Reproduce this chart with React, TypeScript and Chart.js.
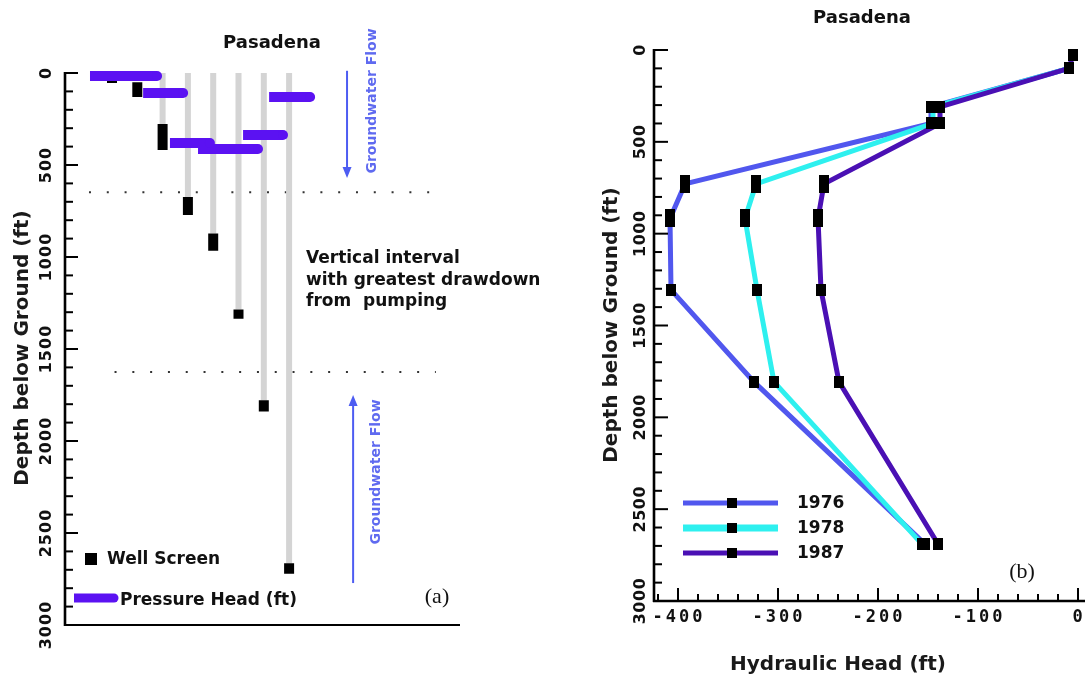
import React, { useEffect, useRef } from 'react';
import { Chart, registerables } from 'chart.js';

Chart.register(...registerables);

// ---------------- Panel (a) data ----------------
const wellPositions = [1, 2, 3, 4, 5, 6, 7, 8];
const screenTop = [10, 50, 277, 674, 872, 1285, 1778, 2665];
const screenBottom = [55, 130, 418, 772, 966, 1336, 1840, 2722];
const casedWellIndex = [2, 3, 4, 5, 6, 7];
const headStart = [0.13, 2.23, 3.29, 4.4, 6.18, 7.21];
const headEnd = [2.78, 3.81, 4.87, 6.77, 7.76, 8.83];
const headDepth = [16, 109, 380, 413, 337, 130];
const intervalDepths = [648, 1625];
const intervalStartX = [0.09, 1.1];
const intervalEndX = [13.96, 13.8];
const flowArrowX = [10.29, 10.53];
const flowArrowFrom = [-12, 2772];
const flowArrowTo = [571, 1750];
const depthTicks = [0, 500, 1000, 1500, 2000, 2500, 3000];

// ---------------- Panel (b) data ----------------
const years = ['1976', '1978', '1987'];
const depth1976 = [100, 310, 400, 729, 917, 1306, 1807, 2690];
const head1976 = [-9, -147, -147, -393, -408, -407, -324, -153];
const depth1978 = [100, 310, 400, 729, 917, 1306, 1807, 2690];
const head1978 = [-9, -145, -145, -322, -333, -321, -304, -156];
const depth1987 = [25, 100, 310, 400, 729, 917, 1306, 1807, 2690];
const head1987 = [-5, -9, -138, -138, -254, -260, -257, -239, -140];
const headTicks = [-400, -300, -200, -100, 0];

const seriesColors = ['#5157ee', '#2ef0ef', '#4a10b4'];
const seriesWidths = [5, 5, 5];
const legendWidths = [5, 7, 5];

const PURPLE = '#5b12f2';
const ARROW = '#4d5cf2';
const FLOWTEXT = '#5f6af0';
const GREY = '#d4d4d4';
const FONT = "'DejaVu Sans', sans-serif";
const MONO = "'DejaVu Sans Mono', monospace";
const SERIF = "'Liberation Serif', serif";

function text(ctx: CanvasRenderingContext2D, s: string, x: number, y: number, font: string, color = '#111', align: CanvasTextAlign = 'center', rot = 0, spacing = 0) {
  ctx.save();
  ctx.translate(x, y);
  if (rot) ctx.rotate(rot);
  ctx.font = font;
  ctx.fillStyle = color;
  ctx.textAlign = align;
  ctx.textBaseline = 'middle';
  (ctx as any).letterSpacing = spacing + 'px';
  ctx.fillText(s, 0, 0);
  ctx.restore();
}

function seg(ctx: CanvasRenderingContext2D, x0: number, y0: number, x1: number, y1: number) {
  ctx.beginPath();
  ctx.moveTo(x0, y0);
  ctx.lineTo(x1, y1);
  ctx.stroke();
}

function arrow(ctx: CanvasRenderingContext2D, x: number, yFrom: number, yTo: number) {
  const dir = yTo > yFrom ? 1 : -1;
  ctx.save();
  ctx.strokeStyle = ARROW;
  ctx.fillStyle = ARROW;
  ctx.lineWidth = 2;
  seg(ctx, x, yFrom, x, yTo - dir * 8);
  ctx.beginPath();
  ctx.moveTo(x, yTo);
  ctx.lineTo(x - 4.5, yTo - dir * 11);
  ctx.lineTo(x + 4.5, yTo - dir * 11);
  ctx.closePath();
  ctx.fill();
  ctx.restore();
}

const pluginA = {
  id: 'panelA',
  beforeDatasetsDraw(chart: any) {
    const { ctx, scales } = chart;
    const xs = scales.x, ys = scales.y;
    ctx.save();
    ctx.strokeStyle = '#333';
    ctx.lineWidth = 2.2;
    ctx.setLineDash([2, 15.8]);
    intervalDepths.forEach((d, i) => {
      const py = ys.getPixelForValue(d);
      seg(ctx, xs.getPixelForValue(intervalStartX[i]), py, xs.getPixelForValue(intervalEndX[i]), py);
    });
    ctx.restore();
  },
  afterDraw(chart: any) {
    const { ctx, chartArea: a, scales } = chart;
    const xs = scales.x, ys = scales.y;
    ctx.save();
    // axes
    ctx.strokeStyle = '#000';
    ctx.lineWidth = 2.6;
    ctx.setLineDash([]);
    seg(ctx, a.left, ys.getPixelForValue(0) - 1, a.left, a.bottom + 1);
    ctx.lineWidth = 2;
    seg(ctx, a.left, a.bottom, a.right, a.bottom);
    ctx.lineWidth = 2;
    for (let v = 0; v <= 3000; v += 100) {
      const py = ys.getPixelForValue(v);
      const major = v % 500 === 0;
      seg(ctx, a.left, py, a.left + (major ? 13 : 8), py);
    }
    depthTicks.forEach((v) => {
      text(ctx, String(v), 47, ys.getPixelForValue(v), `bold 16px ${FONT}`, '#111', 'center', -Math.PI / 2, 1);
    });
    // titles
    text(ctx, 'Depth below Ground (ft)', 23, 348, `bold 20px ${FONT}`, '#1a1a1a', 'center', -Math.PI / 2);
    text(ctx, 'Pasadena', 272, 43, `bold 18px ${FONT}`, '#111');
    // annotation
    const ann = ['Vertical interval', 'with greatest drawdown', 'from  pumping'];
    const annY = [259, 281, 302];
    ann.forEach((s, i) => text(ctx, s, 306, annY[i], `bold 17px ${FONT}`, '#111', 'left'));
    // flow arrows
    flowArrowX.forEach((xv, i) => {
      arrow(ctx, xs.getPixelForValue(xv), ys.getPixelForValue(flowArrowFrom[i]), ys.getPixelForValue(flowArrowTo[i]));
    });
    text(ctx, 'Groundwater Flow', 372, 101, `bold 14px ${FONT}`, FLOWTEXT, 'center', -Math.PI / 2);
    text(ctx, 'Groundwater Flow', 376, 472, `bold 14px ${FONT}`, FLOWTEXT, 'center', -Math.PI / 2);
    // legend
    ctx.fillStyle = '#000';
    ctx.fillRect(85, 553, 12, 12);
    text(ctx, 'Well Screen', 107, 560, `bold 17px ${FONT}`, '#111', 'left');
    ctx.strokeStyle = PURPLE;
    ctx.lineWidth = 9;
    ctx.lineCap = 'butt';
    seg(ctx, 74, 598, 114, 598);
    ctx.fillStyle = PURPLE;
    ctx.beginPath();
    ctx.arc(114, 598, 4.5, -Math.PI / 2, Math.PI / 2);
    ctx.fill();
    text(ctx, 'Pressure Head (ft)', 120, 601, `bold 17px ${FONT}`, '#111', 'left');
    text(ctx, '(a)', 437, 597, `22px ${SERIF}`, '#111');
    ctx.restore();
  },
};

const pluginB = {
  id: 'panelB',
  afterDraw(chart: any) {
    const { ctx, chartArea: a, scales } = chart;
    const xs = scales.x, ys = scales.y;
    ctx.save();
    ctx.strokeStyle = '#000';
    ctx.lineWidth = 2.6;
    seg(ctx, a.left, ys.getPixelForValue(0) - 1, a.left, a.bottom + 1);
    seg(ctx, a.left - 1, a.bottom, chart.width, a.bottom);
    ctx.lineWidth = 2;
    for (let v = 0; v <= 3000; v += 100) {
      const py = ys.getPixelForValue(v);
      const major = v % 500 === 0;
      seg(ctx, a.left, py, a.left + (major ? 14 : 8), py);
    }
    for (let v = -420; v <= 0; v += 20) {
      const px = xs.getPixelForValue(v);
      const major = v % 100 === 0;
      seg(ctx, px, a.bottom, px, a.bottom - (major ? 13 : 7));
    }
    depthTicks.forEach((v) => {
      text(ctx, String(v), 96, ys.getPixelForValue(v), `bold 16px ${FONT}`, '#111', 'center', -Math.PI / 2, 0.5);
    });
    headTicks.forEach((v) => {
      text(ctx, String(v), xs.getPixelForValue(v) + 1, 618, `bold 17px ${MONO}`, '#111', 'center', 0, 3);
    });
    text(ctx, 'Depth below Ground (ft)', 67, 325, `bold 20px ${FONT}`, '#1a1a1a', 'center', -Math.PI / 2);
    text(ctx, 'Hydraulic Head (ft)', 293, 665, `bold 20px ${FONT}`, '#1a1a1a');
    text(ctx, 'Pasadena', 317, 18, `bold 18px ${FONT}`, '#111');
    // legend
    const ly = [503, 528, 553];
    years.forEach((yr, i) => {
      ctx.strokeStyle = seriesColors[i];
      ctx.lineWidth = legendWidths[i];
      seg(ctx, 138, ly[i], 233, ly[i]);
      ctx.fillStyle = '#000';
      ctx.fillRect(182, ly[i] - 5, 10, 10);
      text(ctx, yr, 252, ly[i] + 1, `bold 17px ${FONT}`, '#111', 'left');
    });
    text(ctx, '(b)', 477, 572, `22px ${SERIF}`, '#111');
    ctx.restore();
  },
};

function makeMarker(w: number, h: number) {
  const c = document.createElement('canvas');
  c.width = w;
  c.height = h;
  const g = c.getContext('2d')!;
  g.fillStyle = '#000';
  g.fillRect(0, 0, w, h);
  return c;
}

const baseOptions = (padding: any, xmin: number, xmax: number) => ({
  responsive: false,
  animation: false as const,
  devicePixelRatio: 1,
  events: [],
  layout: { padding },
  plugins: { legend: { display: false }, title: { display: false }, tooltip: { enabled: false } },
  scales: {
    x: { type: 'linear' as const, min: xmin, max: xmax, display: false },
    y: { type: 'linear' as const, min: 0, max: 3000, reverse: true, display: false },
  },
  elements: { line: { tension: 0 } },
});

export default function App() {
  const refA = useRef<HTMLCanvasElement>(null);
  const refB = useRef<HTMLCanvasElement>(null);

  useEffect(() => {
    // Panel (a)
    const pressure = headDepth.map((d, i) => ({
      data: [{ x: headStart[i], y: d }, { x: headEnd[i], y: d }],
      borderColor: PURPLE,
      borderWidth: 10,
      borderCapStyle: 'butt',
      pointRadius: [0, 5],
      pointBackgroundColor: PURPLE,
      pointBorderWidth: 0,
      clip: false,
      order: 0,
    }));
    const screens = wellPositions.map((xv, i) => ({
      data: [{ x: xv, y: screenTop[i] }, { x: xv, y: screenBottom[i] }],
      borderColor: '#000',
      borderWidth: 10,
      borderCapStyle: 'butt',
      pointRadius: 0,
      clip: false,
      order: 1,
    }));
    const casing = casedWellIndex.map((i) => ({
      data: [{ x: wellPositions[i], y: 0 }, { x: wellPositions[i], y: screenTop[i] }],
      borderColor: GREY,
      borderWidth: 6,
      borderCapStyle: 'butt',
      pointRadius: 0,
      clip: false,
      order: 2,
    }));
    const chartA = new Chart(refA.current!, {
      type: 'line',
      data: { datasets: [...pressure, ...screens, ...casing] as any },
      options: baseOptions({ left: 65, right: 85, top: 73, bottom: 51 }, -0.858, 14.755) as any,
      plugins: [pluginA],
    });

    // Panel (b)
    const normal = makeMarker(10, 12);
    const tall = makeMarker(10, 18);
    const depthsB = [depth1976, depth1978, depth1987];
    const headsB = [head1976, head1978, head1987];
    const lineOrder = [3, 2, 1];
    const lines = years.map((yr, i) => ({
      label: yr,
      data: depthsB[i].map((d, j) => ({ x: headsB[i][j], y: d })),
      borderColor: seriesColors[i],
      borderWidth: seriesWidths[i],
      pointRadius: 0,
      clip: false,
      order: lineOrder[i],
    }));
    const markers = years.map((yr, i) => ({
      label: yr + ' points',
      data: depthsB[i].map((d, j) => ({ x: headsB[i][j], y: d })),
      showLine: false,
      pointStyle: depthsB[i].map((d) => (d >= 700 && d <= 1000 ? tall : normal)),
      pointRadius: 6,
      borderWidth: 0,
      clip: false,
      order: -1,
    }));
    const chartB = new Chart(refB.current!, {
      type: 'line',
      data: { datasets: [...lines, ...markers] as any },
      options: baseOptions({ left: 109, right: 7, top: 50, bottom: 75 }, -424, 0) as any,
      plugins: [pluginB],
    });

    return () => {
      chartA.destroy();
      chartB.destroy();
    };
  }, []);

  return (
    <div style={{ position: 'absolute', left: 0, top: 0, width: 1085, height: 676, background: '#fff' }}>
      <canvas ref={refA} width={545} height={676} style={{ position: 'absolute', left: 0, top: 0 }} />
      <canvas ref={refB} width={540} height={676} style={{ position: 'absolute', left: 545, top: 0 }} />
    </div>
  );
}
